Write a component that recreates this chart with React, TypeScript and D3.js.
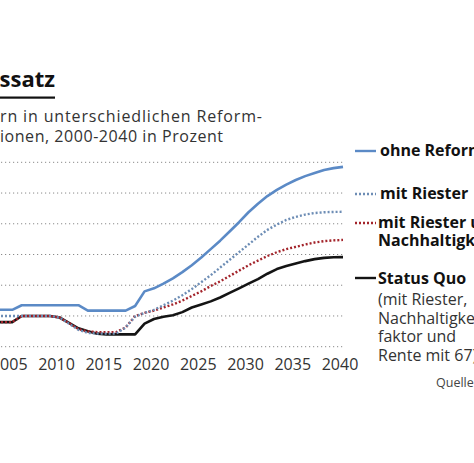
import React from "react";
import * as d3 from "d3";

const years = [2000,2001,2002,2003,2004,2005,2006,2007,2008,2009,2010,2011,2012,2013,2014,2015,2016,2017,2018,2019,2020,2021,2022,2023,2024,2025,2026,2027,2028,2029,2030,2031,2032,2033,2034,2035,2036,2037,2038,2039,2040];

const ohneReform = [20.4,20.4,20.4,20.4,20.4,20.4,20.7,20.7,20.7,20.7,20.7,20.7,20.7,20.35,20.35,20.35,20.35,20.35,20.65,21.6,21.8,22.1,22.45,22.85,23.3,23.8,24.35,24.9,25.5,26.1,26.75,27.3,27.8,28.2,28.55,28.85,29.1,29.3,29.5,29.62,29.7];
const mitRiester = [20.0,20.0,20.0,20.0,20.0,20.0,20.0,20.0,20.0,20.0,19.9,19.5,19.1,18.9,18.85,18.85,18.85,19.25,19.95,20.2,20.4,20.7,21.0,21.35,21.75,22.2,22.65,23.15,23.65,24.15,24.65,25.15,25.6,25.95,26.25,26.45,26.6,26.7,26.75,26.77,26.78];
const mitRiesterNachhaltigkeit = [19.6,19.6,19.6,19.6,19.6,19.6,20.0,20.0,20.0,20.0,19.9,19.55,19.15,19.0,18.95,18.95,18.95,19.25,20.0,20.2,20.35,20.55,20.75,21.0,21.3,21.6,21.95,22.25,22.6,22.95,23.3,23.6,23.9,24.15,24.35,24.5,24.65,24.78,24.87,24.92,24.95];
const statusQuo = [19.6,19.6,19.6,19.6,19.6,19.6,20.0,20.0,20.0,20.0,19.9,19.55,19.2,19.0,18.85,18.8,18.8,18.8,18.8,19.5,19.8,19.95,20.05,20.25,20.55,20.75,20.95,21.2,21.5,21.8,22.1,22.4,22.75,23.05,23.25,23.42,23.57,23.7,23.78,23.82,23.83];

const xTicks = [2000,2005,2010,2015,2020,2025,2030,2035,2040];
const yTicks = [18,20,22,24,26,28,30];

const titleText = "Beitragssatz";
const subtitle1 = "rn in unterschiedlichen Reform-";
const subtitle2 = "ionen, 2000-2040 in Prozent";
const sourceText = "Quelle: IW";

const FONT = "'Open Sans', Lato, sans-serif";

export default function App() {
  const x = d3.scaleLinear().domain([2000, 2040]).range([-35, 343]);
  const y = d3.scaleLinear().domain([18, 30]).range([346.7, 162.3]);
  const line = (vals: number[]) =>
    d3.line<number>().x((_, i) => x(years[i])).y((v) => y(v))(vals) || "";

  const series = [
    { vals: statusQuo, color: "#141414", dash: undefined as string | undefined, w: 2.6 },
    { vals: mitRiesterNachhaltigkeit, color: "#a3242b", dash: "2 2", w: 2.4 },
    { vals: mitRiester, color: "#6d8db5", dash: "2 2", w: 2.4 },
    { vals: ohneReform, color: "#5b8ac6", dash: undefined, w: 2.6 },
  ];

  const legendLines = [
    { y: 151, color: "#5b8ac6", dash: undefined as string | undefined },
    { y: 194, color: "#6d8db5", dash: "2 2" },
    { y: 223, color: "#a3242b", dash: "2 2" },
    { y: 278, color: "#141414", dash: undefined },
  ];

  return (
    <svg
      width={474}
      height={463}
      style={{ position: "fixed", left: 0, top: 0, background: "#fff" }}
      fontFamily={FONT}
    >
      <rect width={474} height={463} fill="#fff" />
      {/* title */}
      <text x={55} y={87} textAnchor="end" fontSize={22} fontWeight={700} fill="#111">
        {titleText}
      </text>
      <rect x={-10} y={96.5} width={65} height={2.2} fill="#111" />
      <text x={0} y={122} fontSize={16} fill="#333" textLength={262} lengthAdjust="spacing">{subtitle1}</text>
      <text x={0} y={141.5} fontSize={16} fill="#333" textLength={223} lengthAdjust="spacing">{subtitle2}</text>

      {/* grid */}
      {yTicks.map((t) => (
        <line
          key={t}
          x1={-35}
          x2={345}
          y1={y(t)}
          y2={y(t)}
          stroke="#8a8a8a"
          strokeWidth={1}
          strokeDasharray="1.2 2.8"
        />
      ))}

      {/* x labels */}
      {xTicks.map((t) => (
        <text key={t} x={x(t) - 3} y={370} textAnchor="middle" fontSize={16} fill="#333">
          {t}
        </text>
      ))}

      {/* lines */}
      {series.map((s, i) => (
        <path
          key={i}
          d={line(s.vals)}
          fill="none"
          stroke={s.color}
          strokeWidth={s.w}
          strokeDasharray={s.dash}
          strokeLinejoin="round"
        />
      ))}

      {/* legend */}
      {legendLines.map((l, i) => (
        <line
          key={i}
          x1={355}
          x2={376}
          y1={l.y}
          y2={l.y}
          stroke={l.color}
          strokeWidth={2.4}
          strokeDasharray={l.dash}
        />
      ))}
      <g fontSize={16} fontWeight={700} fill="#111">
        <text x={380} y={156}>ohne Reform</text>
        <text x={380} y={199}>mit Riester</text>
        <text x={378} y={228}>mit Riester und</text>
        <text x={378} y={245.5}>Nachhaltigkeitsfaktor</text>
        <text x={378} y={284}>Status Quo</text>
      </g>
      <g fontSize={16} fill="#333">
        <text x={378} y={305}>(mit Riester,</text>
        <text x={378} y={323.5}>Nachhaltigkeits-</text>
        <text x={378} y={342}>faktor und</text>
        <text x={378} y={360.5}>Rente mit 67)</text>
      </g>
      <text x={436} y={387} fontSize={12.5} fill="#444">{sourceText}</text>
    </svg>
  );
}
